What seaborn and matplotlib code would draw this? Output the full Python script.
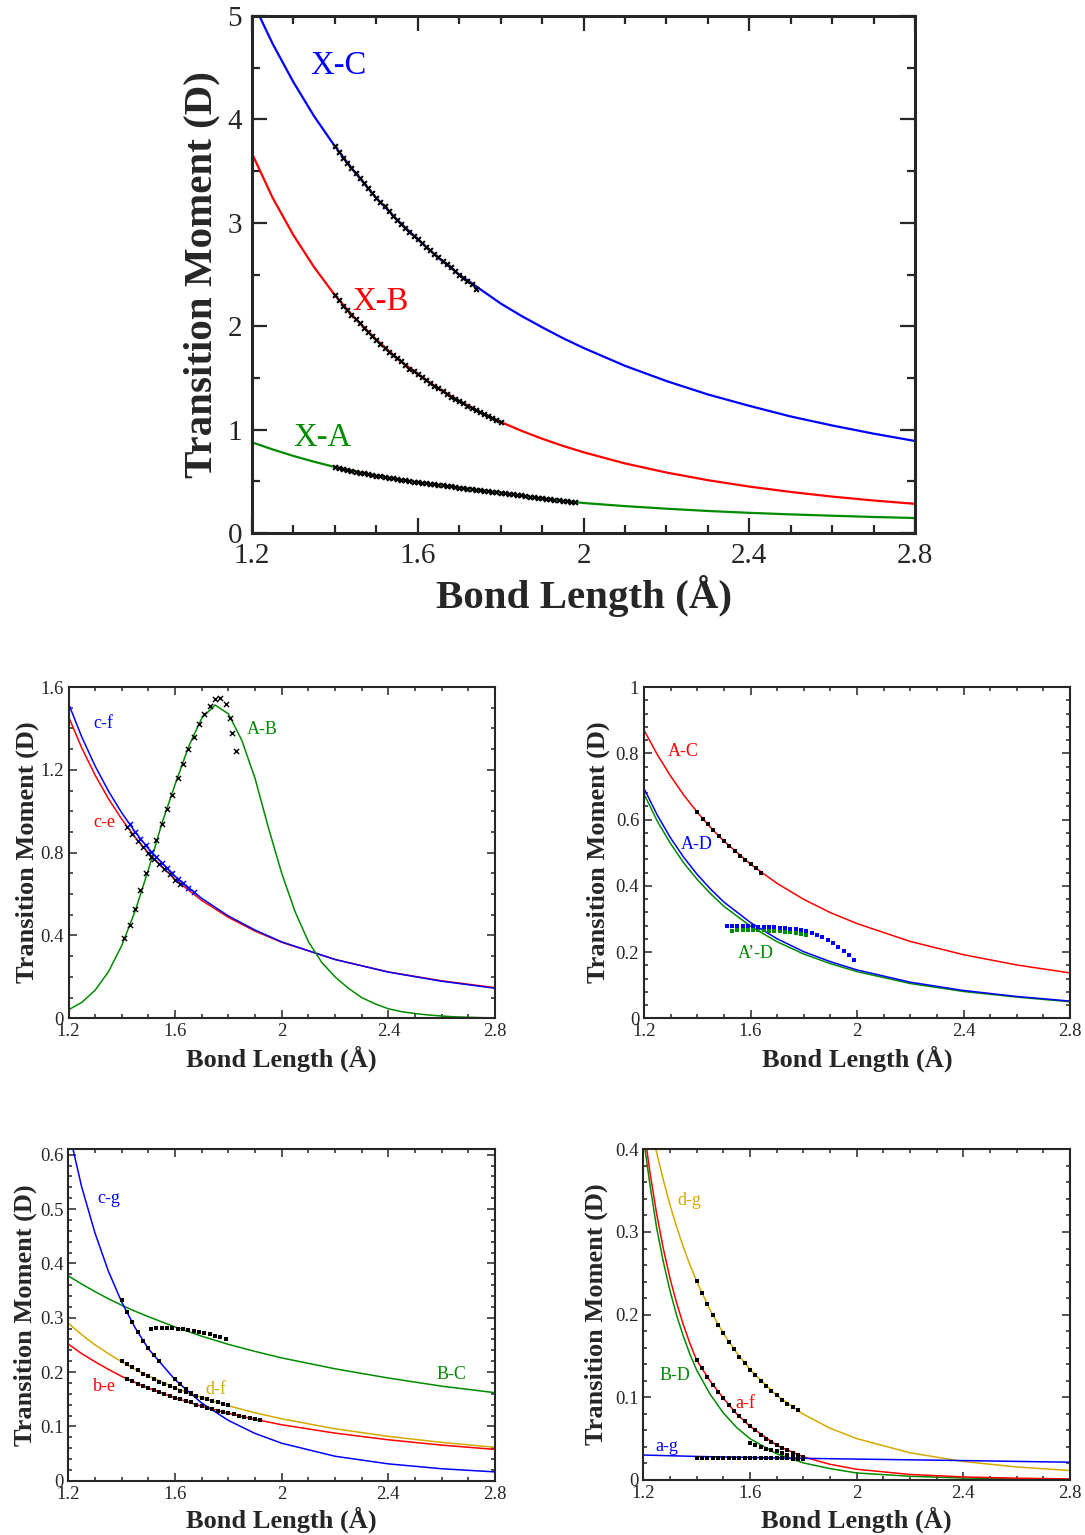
import matplotlib
matplotlib.use("Agg")
import matplotlib.pyplot as plt
import seaborn as sns
from matplotlib.ticker import MultipleLocator, FormatStrFormatter

sns.set_style("ticks")
plt.rcParams["font.family"] = ["Liberation Serif", "DejaVu Serif"]

BLUE = "#0000ff"
RED = "#ff0000"
GREEN = "#008b00"
GOLD = "#d4aa00"

# ---- top panel: X-A, X-B, X-C ----
BOND_TOP = [1.2, 1.25, 1.3, 1.35, 1.4, 1.45, 1.5, 1.55, 1.6, 1.65, 1.7, 1.75, 1.8, 1.85, 1.9, 1.95, 2.0,
            2.1, 2.2, 2.3, 2.4, 2.5, 2.6, 2.7, 2.8]
XC = [5.15, 4.73, 4.36, 4.03, 3.74, 3.48, 3.24, 3.03, 2.84, 2.66, 2.50, 2.36, 2.22, 2.10, 1.99, 1.885, 1.79,
      1.617, 1.47, 1.34, 1.23, 1.127, 1.04, 0.961, 0.89]
XB = [3.67, 3.24, 2.88, 2.57, 2.30, 2.07, 1.87, 1.69, 1.535, 1.398, 1.277, 1.17, 1.074, 0.989, 0.912, 0.843,
      0.781, 0.673, 0.585, 0.511, 0.449, 0.397, 0.352, 0.3145, 0.282]
XA = [0.877, 0.808, 0.745, 0.689, 0.638, 0.595, 0.555, 0.521, 0.49, 0.464, 0.44, 0.415, 0.39, 0.362, 0.335,
      0.312, 0.29, 0.26, 0.235, 0.213, 0.195, 0.18, 0.167, 0.155, 0.145]

XC_PX = [1.40, 1.41, 1.42, 1.43, 1.44, 1.45, 1.46, 1.47, 1.48, 1.49,
         1.50, 1.51, 1.52, 1.53, 1.54, 1.55, 1.56, 1.57, 1.58, 1.59,
         1.60, 1.61, 1.62, 1.63, 1.64, 1.65, 1.66, 1.67, 1.68, 1.69,
         1.70, 1.71, 1.72, 1.73, 1.74]
XC_PY = [3.74, 3.685, 3.63, 3.58, 3.53, 3.48, 3.43, 3.385, 3.34, 3.29,
         3.24, 3.20, 3.16, 3.115, 3.07, 3.03, 2.99, 2.95, 2.91, 2.875,
         2.84, 2.805, 2.77, 2.735, 2.70, 2.665, 2.63, 2.60, 2.57, 2.535,
         2.50, 2.47, 2.44, 2.405, 2.36]
XB_PX = [1.40, 1.41, 1.42, 1.43, 1.44, 1.45, 1.46, 1.47, 1.48, 1.49,
         1.50, 1.51, 1.52, 1.53, 1.54, 1.55, 1.56, 1.57, 1.58, 1.59,
         1.60, 1.61, 1.62, 1.63, 1.64, 1.65, 1.66, 1.67, 1.68, 1.69,
         1.70, 1.71, 1.72, 1.73, 1.74, 1.75, 1.76, 1.77, 1.78, 1.79,
         1.80]
XB_PY = [2.30, 2.25, 2.20, 2.155, 2.11, 2.07, 2.03, 1.985, 1.94, 1.905,
         1.87, 1.83, 1.79, 1.755, 1.72, 1.69, 1.66, 1.625, 1.59, 1.562,
         1.535, 1.507, 1.48, 1.45, 1.42, 1.398, 1.37, 1.345, 1.32, 1.298,
         1.277, 1.253, 1.23, 1.21, 1.19, 1.17, 1.15, 1.13, 1.11, 1.092,
         1.074]
XA_PX = [1.40, 1.41, 1.42, 1.43, 1.44, 1.45, 1.46, 1.47, 1.48, 1.49,
         1.50, 1.51, 1.52, 1.53, 1.54, 1.55, 1.56, 1.57, 1.58, 1.59,
         1.60, 1.61, 1.62, 1.63, 1.64, 1.65, 1.66, 1.67, 1.68, 1.69,
         1.70, 1.71, 1.72, 1.73, 1.74, 1.75, 1.76, 1.77, 1.78, 1.79,
         1.80, 1.81, 1.82, 1.83, 1.84, 1.85, 1.86, 1.87, 1.88, 1.89,
         1.90, 1.91, 1.92, 1.93, 1.94, 1.95, 1.96, 1.97, 1.98]
XA_PY = [0.638, 0.629, 0.62, 0.611, 0.602, 0.594, 0.585, 0.577, 0.57, 0.562,
         0.555, 0.548, 0.542, 0.535, 0.529, 0.522, 0.516, 0.51, 0.503, 0.497,
         0.49, 0.485, 0.48, 0.475, 0.47, 0.465, 0.46, 0.455, 0.45, 0.445,
         0.44, 0.435, 0.43, 0.425, 0.42, 0.415, 0.41, 0.405, 0.40, 0.395,
         0.39, 0.385, 0.379, 0.374, 0.368, 0.363, 0.357, 0.352, 0.346, 0.341,
         0.335, 0.33, 0.325, 0.32, 0.315, 0.31, 0.305, 0.30, 0.296]

# ---- small panels share this grid ----
BOND = [1.2, 1.25, 1.3, 1.35, 1.4, 1.45, 1.5, 1.6, 1.7, 1.8, 1.9, 2.0, 2.2, 2.4, 2.6, 2.8]

# ---- middle left: c-f, c-e, A-B ----
CF = [1.52, 1.358, 1.218, 1.097, 0.992, 0.900, 0.819, 0.685, 0.579, 0.494, 0.426, 0.369, 0.284, 0.223, 0.179, 0.145]
CE = [1.457, 1.305, 1.174, 1.060, 0.961, 0.874, 0.798, 0.670, 0.569, 0.4875, 0.421, 0.367, 0.284, 0.224, 0.181, 0.148]
BOND_AB = [1.2, 1.25, 1.3, 1.35, 1.4, 1.45, 1.5, 1.55, 1.6, 1.65, 1.7, 1.75, 1.8, 1.85, 1.9, 1.95, 2.0,
           2.05, 2.1, 2.15, 2.2, 2.25, 2.3, 2.35, 2.4, 2.45, 2.5, 2.55, 2.6, 2.65, 2.7, 2.75, 2.8]
AB = [0.041, 0.077, 0.136, 0.225, 0.352, 0.518, 0.719, 0.94, 1.13, 1.31, 1.45, 1.513, 1.47, 1.343, 1.158,
      0.92, 0.70, 0.515, 0.37, 0.27, 0.20, 0.145, 0.10, 0.07, 0.046, 0.032, 0.023, 0.016, 0.011, 0.007,
      0.005, 0.003, 0.002]
AB_PX = [1.41, 1.43, 1.45, 1.47, 1.49, 1.51, 1.53, 1.55, 1.57, 1.59, 1.61, 1.63, 1.65, 1.67, 1.69, 1.71,
         1.73, 1.75, 1.77, 1.79, 1.806, 1.814, 1.827]
AB_PY = [0.39, 0.45, 0.53, 0.62, 0.70, 0.78, 0.86, 0.94, 1.01, 1.08, 1.16, 1.23, 1.30, 1.36, 1.42, 1.47,
         1.51, 1.54, 1.545, 1.52, 1.45, 1.38, 1.29]
CF_PX = [1.43, 1.45, 1.47, 1.49, 1.51, 1.53, 1.55, 1.57, 1.59, 1.61, 1.63, 1.65, 1.67]
CF_PY = [0.936, 0.90, 0.868, 0.835, 0.805, 0.778, 0.752, 0.727, 0.70, 0.673, 0.652, 0.63, 0.61]
CE_PX = [1.42, 1.44, 1.46, 1.48, 1.50, 1.52, 1.54, 1.56, 1.58, 1.60, 1.62]
CE_PY = [0.925, 0.89, 0.858, 0.828, 0.798, 0.77, 0.745, 0.72, 0.695, 0.67, 0.648]

# ---- middle right: A-C, A-D, A'-D ----
AC = [0.87, 0.796, 0.731, 0.673, 0.622, 0.576, 0.535, 0.465, 0.407, 0.359, 0.319, 0.286, 0.232, 0.192, 0.161, 0.137]
AD = [0.694, 0.613, 0.544, 0.485, 0.434, 0.390, 0.351, 0.289, 0.240, 0.201, 0.171, 0.146, 0.109, 0.084, 0.066, 0.052]
APD = [0.677, 0.595, 0.527, 0.468, 0.419, 0.376, 0.338, 0.278, 0.231, 0.194, 0.165, 0.141, 0.105, 0.081, 0.064, 0.050]
AC_PX = [1.40, 1.42, 1.44, 1.46, 1.48, 1.50, 1.52, 1.54, 1.56, 1.58, 1.60, 1.62, 1.64]
AC_PY = [0.622, 0.603, 0.585, 0.567, 0.55, 0.535, 0.52, 0.506, 0.491, 0.478, 0.465, 0.453, 0.44]
AD_PX = [1.51, 1.53, 1.55, 1.57, 1.59, 1.61, 1.63, 1.65, 1.67, 1.69, 1.71, 1.73, 1.75, 1.77, 1.79, 1.81,
         1.83, 1.85, 1.87, 1.89, 1.91, 1.93, 1.95, 1.97, 1.99]
AD_PY = [0.280, 0.280, 0.280, 0.280, 0.279, 0.278, 0.277, 0.276, 0.276, 0.275, 0.274, 0.273, 0.271, 0.269,
         0.266, 0.262, 0.258, 0.252, 0.245, 0.236, 0.227, 0.215, 0.203, 0.19, 0.177]
APD_PX = [1.53, 1.55, 1.57, 1.59, 1.61, 1.63, 1.65, 1.67, 1.69, 1.71, 1.73, 1.75, 1.77, 1.79, 1.81]
APD_PY = [0.265, 0.266, 0.267, 0.267, 0.267, 0.267, 0.266, 0.265, 0.264, 0.263, 0.261, 0.259, 0.257, 0.255, 0.252]

# ---- bottom left: c-g, B-C, d-f, b-e ----
CG = [0.648, 0.541, 0.456, 0.386, 0.329, 0.282, 0.243, 0.186, 0.143, 0.111, 0.087, 0.069, 0.045, 0.031, 0.022, 0.0162]
BC = [0.377, 0.362, 0.348, 0.335, 0.323, 0.312, 0.302, 0.283, 0.266, 0.251, 0.238, 0.226, 0.206, 0.189, 0.174, 0.162]
DF = [0.29, 0.269, 0.250, 0.234, 0.219, 0.205, 0.193, 0.171, 0.153, 0.138, 0.125, 0.114, 0.0956, 0.0816, 0.0705, 0.0615]
BE = [0.2515, 0.234, 0.219, 0.205, 0.192, 0.181, 0.1706, 0.1525, 0.137, 0.124, 0.113, 0.103, 0.0876, 0.0753, 0.0655, 0.0576]
CG_PX = [1.40, 1.42, 1.44, 1.46, 1.48, 1.50, 1.52, 1.54, 1.60, 1.62, 1.64, 1.66]
CG_PY = [0.332, 0.31, 0.292, 0.274, 0.258, 0.245, 0.232, 0.22, 0.187, 0.178, 0.169, 0.161]
BC_PX = [1.51, 1.53, 1.55, 1.57, 1.59, 1.61, 1.63, 1.65, 1.67, 1.69, 1.71, 1.73, 1.75, 1.77, 1.79]
BC_PY = [0.280, 0.281, 0.281, 0.281, 0.281, 0.280, 0.279, 0.278, 0.276, 0.274, 0.272, 0.270, 0.267, 0.264, 0.261]
DF_PX = [1.40, 1.42, 1.44, 1.46, 1.48, 1.50, 1.52, 1.54, 1.56, 1.58, 1.60, 1.62, 1.64, 1.66, 1.68, 1.70,
         1.72, 1.74, 1.76, 1.78, 1.80]
DF_PY = [0.221, 0.215, 0.209, 0.203, 0.197, 0.192, 0.187, 0.182, 0.178, 0.174, 0.170, 0.166, 0.163, 0.159,
         0.156, 0.153, 0.150, 0.147, 0.144, 0.141, 0.139]
BE_PX = [1.42, 1.44, 1.46, 1.48, 1.50, 1.52, 1.54, 1.56, 1.58, 1.60, 1.62, 1.64, 1.66, 1.68, 1.70, 1.72,
         1.74, 1.76, 1.78, 1.80, 1.82, 1.84, 1.86, 1.88, 1.90, 1.92]
BE_PY = [0.187, 0.183, 0.178, 0.174, 0.171, 0.167, 0.163, 0.16, 0.156, 0.153, 0.150, 0.147, 0.144, 0.14,
         0.137, 0.134, 0.132, 0.129, 0.126, 0.124, 0.122, 0.119, 0.117, 0.115, 0.113, 0.111]

# ---- bottom right: d-g, a-f, B-D, a-g ----
BOND5 = [1.2, 1.225, 1.25, 1.275, 1.3, 1.325, 1.35, 1.375, 1.4, 1.45, 1.5, 1.55, 1.6, 1.7, 1.8, 1.9, 2.0,
         2.2, 2.4, 2.6, 2.8]
DG = [0.474, 0.433, 0.396, 0.363, 0.333, 0.306, 0.282, 0.260, 0.2405, 0.206, 0.1775, 0.154, 0.1336, 0.1023,
      0.0796, 0.0627, 0.0501, 0.0329, 0.0224, 0.0158, 0.0114]
AF = [0.43, 0.372, 0.322, 0.28, 0.244, 0.214, 0.188, 0.165, 0.145, 0.12, 0.099, 0.080, 0.065, 0.042, 0.028,
      0.019, 0.013, 0.0067, 0.0037, 0.0022, 0.0013]
BD = [0.415, 0.357, 0.305, 0.264, 0.229, 0.199, 0.174, 0.152, 0.133, 0.1040, 0.0811, 0.0635, 0.050, 0.0317,
      0.0207, 0.0138, 0.0085, 0.0045, 0.0024, 0.0013, 0.0007]
BOND_AG = [1.2, 1.4, 1.6, 1.8, 2.0, 2.2, 2.4, 2.6, 2.8]
AG = [0.0302, 0.0285, 0.0272, 0.0262, 0.0253, 0.0244, 0.0235, 0.0225, 0.0215]
DG_PX = [1.40, 1.42, 1.44, 1.46, 1.48, 1.50, 1.52, 1.54, 1.56, 1.58, 1.60, 1.62, 1.64, 1.66, 1.68, 1.70,
         1.72, 1.74, 1.76, 1.78]
DG_PY = [0.2405, 0.226, 0.213, 0.200, 0.188, 0.1775, 0.167, 0.158, 0.149, 0.141, 0.1336, 0.127, 0.120, 0.114,
         0.108, 0.1023, 0.097, 0.092, 0.088, 0.085]
AF_PX = [1.40, 1.42, 1.44, 1.46, 1.48, 1.50, 1.52, 1.54, 1.56, 1.58, 1.60, 1.62, 1.64, 1.66, 1.68, 1.70,
         1.72, 1.74, 1.76, 1.78, 1.80]
AF_PY = [0.145, 0.135, 0.125, 0.115, 0.107, 0.099, 0.091, 0.084, 0.077, 0.071, 0.065, 0.060, 0.055, 0.050,
         0.046, 0.042, 0.039, 0.036, 0.033, 0.030, 0.028]
BD_PX = [1.60, 1.62, 1.64, 1.66, 1.68, 1.70, 1.72, 1.74, 1.76, 1.78]
BD_PY = [0.045, 0.0425, 0.040, 0.038, 0.0365, 0.0345, 0.0325, 0.0305, 0.029, 0.027]
AG_PX = [1.40, 1.42, 1.44, 1.46, 1.48, 1.50, 1.52, 1.54, 1.56, 1.58, 1.60, 1.62, 1.64, 1.66, 1.68, 1.70,
         1.72, 1.74, 1.76, 1.78, 1.80]
AG_PY = [0.0266, 0.0266, 0.0265, 0.0265, 0.0265, 0.0264, 0.0264, 0.0264, 0.0263, 0.0263, 0.0263, 0.0262,
         0.0262, 0.0262, 0.0262, 0.0261, 0.0261, 0.0261, 0.0260, 0.0260, 0.0260]

W, H = 1085, 1535


def make_axes(fig, left, right, top, bottom):
    return fig.add_axes([left / W, 1 - bottom / H, (right - left) / W, (bottom - top) / H])


def style(ax, ylim, ymajor, yminor, big):
    ax.set_xlim(1.2, 2.8)
    ax.set_ylim(*ylim)
    ax.xaxis.set_major_locator(MultipleLocator(0.4))
    ax.xaxis.set_minor_locator(MultipleLocator(0.1))
    ax.yaxis.set_major_locator(MultipleLocator(ymajor))
    ax.yaxis.set_minor_locator(MultipleLocator(yminor))
    ax.xaxis.set_major_formatter(FormatStrFormatter("%g"))
    ax.yaxis.set_major_formatter(FormatStrFormatter("%g"))
    if big:
        ax.tick_params(which="both", direction="in", top=True, right=True, width=1.6, labelsize=21)
        ax.tick_params(which="major", length=11, pad=7)
        ax.tick_params(which="minor", length=6)
        lw = 2.2
        fs = 29.5
    else:
        ax.tick_params(which="both", direction="in", top=True, right=True, width=1.1, labelsize=13.5)
        ax.tick_params(which="major", length=6, pad=3.5)
        ax.tick_params(which="minor", length=3)
        lw = 1.5
        fs = 19
    for s in ax.spines.values():
        s.set_linewidth(lw)
        s.set_visible(True)
    ax.set_xlabel("Bond Length (Å)", fontsize=fs, fontweight="bold")
    ax.set_ylabel("Transition Moment (D)", fontsize=fs, fontweight="bold")
    ax.xaxis.label.set_va("center")
    ax.yaxis.label.set_va("center")


def curve(ax, x, y, color, lw):
    sns.lineplot(x=x, y=y, ax=ax, color=color, linewidth=lw, sort=False, estimator=None)


def points(ax, x, y, color="k", marker="x", s=14, lw=1.2):
    sns.scatterplot(x=x, y=y, ax=ax, color=color, marker=marker, s=s, linewidth=lw,
                    edgecolor=color if marker != "x" else None, zorder=5)


fig = plt.figure(figsize=(10.85, 15.35), dpi=100)

# top panel
ax = make_axes(fig, 252, 915, 16, 533)
curve(ax, BOND_TOP, XC, BLUE, 1.6)
curve(ax, BOND_TOP, XB, RED, 1.6)
curve(ax, BOND_TOP, XA, GREEN, 1.6)
points(ax, XC_PX, XC_PY, s=12, lw=1.5)
points(ax, XB_PX, XB_PY, s=12, lw=1.5)
points(ax, XA_PX, XA_PY, s=12, lw=1.5)
ax.text(1.4075, 4.516, "X-C", color=BLUE, fontsize=23.5, ha="center", va="center")
ax.text(1.511, 2.234, "X-B", color=RED, fontsize=23.5, ha="center", va="center")
ax.text(1.369, 0.919, "X-A", color=GREEN, fontsize=23.5, ha="center", va="center")
style(ax, (0, 5), 1, 0.5, True)
ax.xaxis.set_label_coords(0.5, -0.122)
ax.yaxis.set_label_coords(-0.0754, 0.499)

# middle left
ax = make_axes(fig, 68.5, 495, 687, 1018.3)
curve(ax, BOND, CE, RED, 1.1)
curve(ax, BOND, CF, BLUE, 1.1)
curve(ax, BOND_AB, AB, GREEN, 1.1)
points(ax, AB_PX, AB_PY, s=14, lw=1.0)
points(ax, CE_PX, CE_PY, s=14, lw=1.0)
points(ax, CF_PX, CF_PY, color=BLUE, s=14, lw=1.0)
ax.text(1.329, 1.422, "c-f", color=BLUE, fontsize=13, ha="center", va="center")
ax.text(1.333, 0.948, "c-e", color=RED, fontsize=13, ha="center", va="center")
ax.text(1.926, 1.393, "A-B", color=GREEN, fontsize=13, ha="center", va="center")
style(ax, (0, 1.6), 0.4, 0.1, False)
ax.xaxis.set_label_coords(0.5, -0.123)
ax.yaxis.set_label_coords(-0.097, 0.5)

# middle right
ax = make_axes(fig, 644, 1070, 687, 1018.3)
curve(ax, BOND, AC, RED, 1.1)
curve(ax, BOND, APD, GREEN, 1.1)
curve(ax, BOND, AD, BLUE, 1.1)
points(ax, AC_PX, AC_PY, marker="s", s=6, lw=0)
points(ax, APD_PX, APD_PY, color=GREEN, marker="s", s=6, lw=0)
points(ax, AD_PX, AD_PY, color=BLUE, marker="s", s=6, lw=0)
ax.text(1.346, 0.804, "A-C", color=RED, fontsize=13, ha="center", va="center")
ax.text(1.399, 0.524, "A-D", color=BLUE, fontsize=13, ha="center", va="center")
ax.text(1.621, 0.197, "A\u2019-D", color=GREEN, fontsize=13, ha="center", va="center")
style(ax, (0, 1), 0.2, 0.04, False)
ax.xaxis.set_label_coords(0.5, -0.123)
ax.yaxis.set_label_coords(-0.108, 0.5)

# bottom left
ax = make_axes(fig, 68.3, 495, 1149.3, 1480.7)
curve(ax, BOND, BC, GREEN, 1.1)
curve(ax, BOND, DF, GOLD, 1.1)
curve(ax, BOND, BE, RED, 1.1)
curve(ax, BOND, CG, BLUE, 1.1)
points(ax, CG_PX, CG_PY, marker="s", s=6, lw=0)
points(ax, BC_PX, BC_PY, marker="s", s=6, lw=0)
points(ax, DF_PX, DF_PY, marker="s", s=6, lw=0)
points(ax, BE_PX, BE_PY, marker="s", s=6, lw=0)
ax.text(1.353, 0.52, "c-g", color=BLUE, fontsize=13, ha="center", va="center")
ax.text(1.334, 0.174, "b-e", color=RED, fontsize=13, ha="center", va="center")
ax.text(1.754, 0.167, "d-f", color=GOLD, fontsize=13, ha="center", va="center")
ax.text(2.638, 0.195, "B-C", color=GREEN, fontsize=13, ha="center", va="center")
style(ax, (0, 0.61), 0.1, 0.02, False)
ax.xaxis.set_label_coords(0.5, -0.119)
ax.yaxis.set_label_coords(-0.101, 0.5)

# bottom right
ax = make_axes(fig, 643.3, 1070, 1149.3, 1480)
curve(ax, BOND5, DG, GOLD, 1.1)
curve(ax, BOND5, BD, GREEN, 1.1)
curve(ax, BOND5, AF, RED, 1.1)
curve(ax, BOND_AG, AG, BLUE, 1.1)
points(ax, DG_PX, DG_PY, marker="s", s=6, lw=0)
points(ax, AF_PX, AF_PY, marker="s", s=6, lw=0)
points(ax, BD_PX, BD_PY, marker="s", s=6, lw=0)
points(ax, AG_PX, AG_PY, marker="s", s=5, lw=0)
ax.text(1.371, 0.3375, "d-g", color=GOLD, fontsize=13, ha="center", va="center")
ax.text(1.319, 0.126, "B-D", color=GREEN, fontsize=13, ha="center", va="center")
ax.text(1.581, 0.092, "a-f", color=RED, fontsize=13, ha="center", va="center")
ax.text(1.289, 0.040, "a-g", color=BLUE, fontsize=13, ha="center", va="center")
style(ax, (0, 0.4), 0.1, 0.02, False)
ax.xaxis.set_label_coords(0.5, -0.119)
ax.yaxis.set_label_coords(-0.111, 0.5)

fig.savefig("out.png", dpi=100)
